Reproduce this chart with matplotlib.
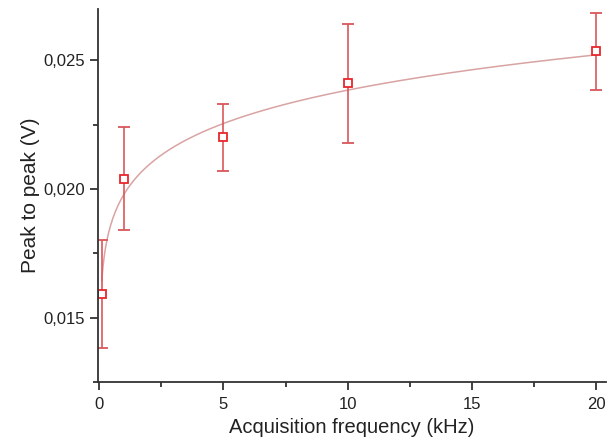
import numpy as np
import matplotlib.pyplot as plt
from matplotlib.ticker import MultipleLocator, FuncFormatter

plt.rcParams['font.family'] = ['Liberation Sans', 'DejaVu Sans']

freq = [0.1, 1, 5, 10, 20]
peak = [0.0159, 0.0204, 0.0220, 0.0241, 0.02535]
err = [0.0021, 0.0020, 0.0013, 0.0023, 0.0015]

# power law fit y = a * x^b
fit_a = 0.0198
fit_b = 0.0806

fig = plt.figure(figsize=(6.09, 4.38), dpi=100)
ax = fig.add_axes([0.161, 0.128, 0.834, 0.852])

xs = np.linspace(0.1, 20, 400)
ax.plot(xs, fit_a * xs ** fit_b, color='#d9a3a3', lw=1.1, zorder=1)
ax.errorbar(freq, peak, yerr=err, fmt='s', ms=6, mfc='white', mec='#e8262a',
            mew=1.3, ecolor='#d9575b', elinewidth=1.2, capsize=4, capthick=1.2, zorder=2)

ax.set_xlim(-0.05, 20.4)
ax.set_ylim(0.0125, 0.027)
ax.xaxis.set_major_locator(MultipleLocator(5))
ax.xaxis.set_minor_locator(MultipleLocator(2.5))
ax.yaxis.set_major_locator(MultipleLocator(0.005))
ax.yaxis.set_minor_locator(MultipleLocator(0.0025))
ax.yaxis.set_major_formatter(FuncFormatter(lambda v, p: f'{v:.3f}'.replace('.', ',')))

for s in ['top', 'right']:
    ax.spines[s].set_visible(False)
for s in ['left', 'bottom']:
    ax.spines[s].set_color('#333333')
    ax.spines[s].set_linewidth(1.3)
ax.tick_params(which='major', length=6, width=1.3, color='#333333', labelsize=12, labelcolor='#222222')
ax.tick_params(axis='x', which='major', pad=5)
ax.tick_params(which='minor', length=3.5, width=1.3, color='#333333')

ax.set_xlabel('Acquisition frequency (kHz)', fontsize=14.5, color='#222222', labelpad=4)
ax.set_ylabel('Peak to peak (V)', fontsize=15, color='#222222', labelpad=2)

fig.savefig('out.png', dpi=100)
